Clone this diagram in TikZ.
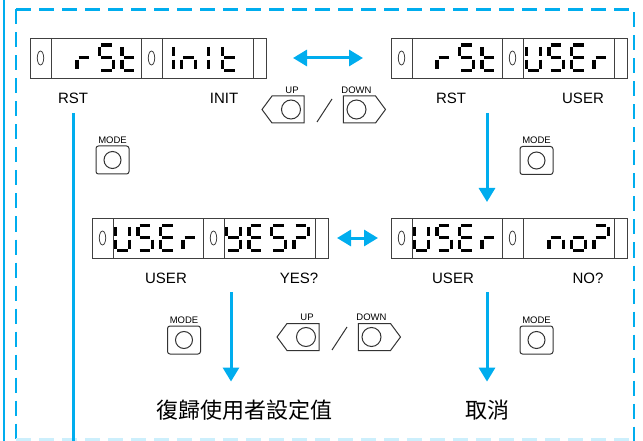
\documentclass[tikz,border=0pt]{standalone}
\usepackage{fontspec}
\setmainfont{Liberation Sans}
\newfontfamily\cjk{Noto Sans CJK TC}
\usetikzlibrary{arrows.meta,shapes.symbols}

\definecolor{mblue}{RGB}{0,173,238}

% seven segment pieces, a..g
\newcommand{\segone}[1]{%
	\if a#1\draw[segline] (3.2,1.6) -- (13.8,1.6);\fi
	\if b#1\draw[segline] (15.6,3.4) -- (15.6,12.4);\fi
	\if c#1\draw[segline] (15.6,16.2) -- (15.6,25.2);\fi
	\if d#1\draw[segline] (3.2,27.2) -- (13.8,27.2);\fi
	\if e#1\draw[segline] (1.4,16.2) -- (1.4,25.2);\fi
	\if f#1\draw[segline] (1.4,3.4) -- (1.4,12.4);\fi
	\if g#1\draw[segline] (3.2,14.3) -- (13.8,14.3);\fi}
\newcommand{\segs}[1]{\foreach \sg in {#1}{\segone{\sg}}}
\newcommand{\Lr}{\segs{e,g}}
\newcommand{\LS}{\segs{a,f,g,c,d}}
\newcommand{\Lt}{\segs{f,e,g,d}}
\newcommand{\LI}{\segs{f,e}}
\newcommand{\Ln}{\segs{e,g,c}}
\newcommand{\LU}{\segs{f,e,d,c,b}}
\newcommand{\LE}{\segs{a,f,g,e,d}}
\newcommand{\LY}{\segs{f,b,g,c,d}}
\newcommand{\Lq}{\segs{a,b,g,e}}
\newcommand{\Lo}{\segs{e,g,c,d}}
\newcommand{\lcdchar}[3]{\begin{scope}[shift={(#1,#2)}]#3\end{scope}}
\newcommand{\lcd}[3]{%
	\node[lcdbox] (#1) at (#2,#3) {};
	\foreach \dx in {21,111,132,223}
		\draw[lcdrule] (#2+\dx,#3) -- (#2+\dx,#3+40);
	\foreach \dx in {10.5,121.5}
		\draw[lcdrule] (#2+\dx,#3+20) ellipse [x radius=3.2pt,y radius=7pt];}

\begin{document}
\begin{tikzpicture}[x=1pt,y=-1pt]

	\tikzstyle{lcdbox}=[draw=black!75,line width=0.8pt,rectangle,anchor=north west,minimum width=236pt,minimum height=40pt,inner sep=0pt,outer sep=0pt]
	\tikzstyle{lcdrule}=[black!75,line width=0.8pt]
	\tikzstyle{segline}=[black,line width=3.2pt]
	\tikzstyle{lbl}=[font=\fontsize{15}{17}\selectfont,inner sep=0pt]
	\tikzstyle{keylbl}=[font=\fontsize{9.5}{11}\selectfont,inner sep=2pt]
	\tikzstyle{keyring}=[black!80,line width=1pt]
	\tikzstyle{modekey}=[draw=black!80,line width=1pt,rounded corners=2.5pt,minimum width=33pt,minimum height=28pt,inner sep=0pt]
	\tikzstyle{arrowkey}=[draw=black!80,line width=1pt,signal,signal pointer angle=107,minimum width=42pt,minimum height=27pt,inner sep=0pt]
	\tikzstyle{cjktxt}=[font={\cjk\fontsize{22}{26}\selectfont},inner sep=0pt]
	\tikzstyle{flow}=[mblue,line width=3pt,-{Triangle[length=14pt,width=16pt]}]
	\tikzstyle{flowboth}=[mblue,line width=3pt,{Triangle[length=14pt,width=16pt]}-{Triangle[length=14pt,width=16pt]}]
	\tikzstyle{frame}=[mblue,line width=2.2pt,dash pattern=on 15pt off 8pt]

	\useasboundingbox (0,0) rectangle (643,441);
	\coordinate (sw) at (0,441);

	% frame
	\draw[mblue,line width=1.6pt] (4,0) -- (4,441);
	\draw[frame] (16,9.5) -- (16,441);
	\draw[frame] (16,9.5) -- (634,9.5) -- (634,441);
	\draw[frame,mblue!20] (16,439.5) -- (634,439.5);

	% displays
	\lcd{rstinit}{30}{38}
	\foreach \ch [count=\i] in {\Lr,\LS,\Lt} {\lcdchar{53+22.5*\i}{43.5}{\ch}}
	\lcdchar{172}{43.5}{\LI}
	\lcdchar{180}{43.5}{\Ln}
	\lcdchar{207}{43.5}{\LI}
	\lcdchar{221}{43.5}{\Lt}

	\lcd{rstuser}{391}{38}
	\foreach \ch [count=\i] in {\Lr,\LS,\Lt} {\lcdchar{413+22.5*\i}{43.5}{\ch}}
	\foreach \ch [count=\i from 0] in {\LU,\LS,\LE,\Lr} {\lcdchar{525+22.5*\i}{43.5}{\ch}}

	\lcd{useryes}{92}{218}
	\foreach \ch [count=\i from 0] in {\LU,\LS,\LE,\Lr} {\lcdchar{114+22.5*\i}{223.5}{\ch}}
	\foreach \ch [count=\i from 0] in {\LY,\LE,\LS,\Lq} {\lcdchar{225+22.5*\i}{223.5}{\ch}}

	\lcd{userno}{391}{218}
	\foreach \ch [count=\i from 0] in {\LU,\LS,\LE,\Lr} {\lcdchar{413+22.5*\i}{223.5}{\ch}}
	\foreach \ch [count=\i] in {\Ln,\Lo,\Lq} {\lcdchar{525+22.5*\i}{223.5}{\ch}}

	\node[lbl] (t1) at (73,98) {RST};
	\node[lbl] (t2) at (224,98) {INIT};
	\node[lbl] (t3) at (451,98) {RST};
	\node[lbl] (t4) at (583,98) {USER};
	\node[lbl] (t5) at (166,278) {USER};
	\node[lbl] (t6) at (299,278) {YES?};
	\node[lbl] (t7) at (453,278) {USER};
	\node[lbl] (t8) at (588,278) {NO?};

	% keys
	\node[modekey,label={[keylbl]above:MODE}] (mode1) at (112.5,160) {};
	\node[modekey,label={[keylbl]above:MODE}] (mode2) at (536.5,160.5) {};
	\node[modekey,label={[keylbl]above:MODE}] (mode3) at (184,340) {};
	\node[modekey,label={[keylbl]above:MODE}] (mode4) at (536.5,340) {};
	\foreach \k in {mode1,mode2,mode3,mode4}
		\draw[keyring] (\k.center) circle (8.5pt);

	\node[arrowkey,signal to=west,label={[keylbl,xshift=4pt]above:UP}] (up1) at (288,109.5) {};
	\node[arrowkey,signal to=east,label={[keylbl,xshift=-3pt]above:DOWN}] (down1) at (359.5,109.5) {};
	\node[arrowkey,signal to=west,label={[keylbl,xshift=4pt]above:UP}] (up2) at (303,337) {};
	\node[arrowkey,signal to=east,label={[keylbl,xshift=-3pt]above:DOWN}] (down2) at (374.5,337) {};
	\foreach \k/\s in {up1/3,down1/-3,up2/3,down2/-3}
		\draw[keyring] ([xshift=\s pt]\k.center) circle (9.5pt);
	\draw[keyring] (317,122) -- (332,99);
	\draw[keyring] (332,350) -- (347,327);

	\node[cjktxt] (keepuser) at (244,410) {復歸使用者設定值};
	\node[cjktxt] (cancel) at (487,410) {取消};

	% arrows
	\coordinate (c0) at (73,113);
	\coordinate (c1) at (487,113);
	\coordinate (c2) at (231,292);
	\coordinate (c3) at (487,292);
	\draw[mblue,line width=3pt] (c0) -- (c0 |- sw);
	\draw[flowboth,shorten <=27pt,shorten >=28pt] (rstinit) -- (rstuser);
	\draw[flowboth,shorten <=9pt,shorten >=13pt] (useryes) -- (userno);
	\draw[flow,shorten >=16pt] (c1) -- (c1 |- userno.north);
	\draw[flow,shorten >=18pt] (c2) -- (c2 |- keepuser.north);
	\draw[flow,shorten >=18pt] (c3) -- (c3 |- cancel.north);

\end{tikzpicture}
\end{document}
